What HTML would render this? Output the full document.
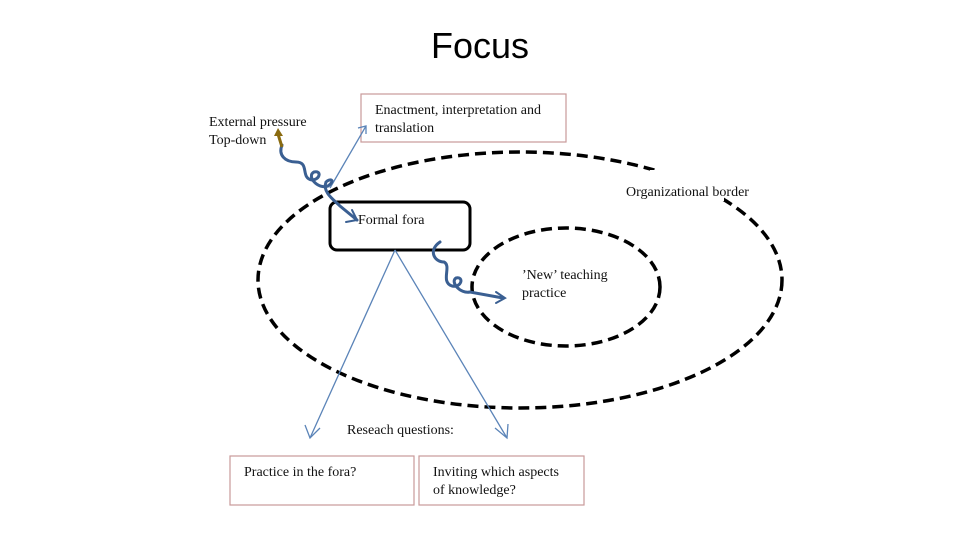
<!DOCTYPE html>
<html><head><style>
body{margin:0;background:#fff;}
svg{display:block}
text{font-family:"Liberation Serif",serif;font-size:14px;fill:#111}
</style></head><body>
<svg width="960" height="540" viewBox="0 0 960 540">
<text x="480" y="58" text-anchor="middle" textLength="98" lengthAdjust="spacingAndGlyphs" style="font-family:'Liberation Sans',sans-serif;font-size:36px;fill:#000">Focus</text>
<ellipse cx="520" cy="280" rx="262" ry="128" fill="none" stroke="#000" stroke-width="3.5" stroke-dasharray="11,6"/>
<rect x="650" y="170" width="74" height="31" fill="#fff"/>
<text x="626" y="196">Organizational border</text>
<ellipse cx="566" cy="287" rx="94" ry="59" fill="none" stroke="#000" stroke-width="3.5" stroke-dasharray="11,6"/>
<rect x="330" y="202" width="140" height="48" rx="7" fill="#fff" stroke="#000" stroke-width="3"/>
<text x="358" y="224">Formal fora</text>
<rect x="361" y="94" width="205" height="48" fill="#fff" stroke="#c99a9a" stroke-width="1.2"/>
<text x="375" y="114">Enactment, interpretation and</text>
<text x="375" y="132">translation</text>
<text x="209" y="126">External pressure</text>
<text x="209" y="144">Top-down</text>
<text x="522" y="279">’New’ teaching</text>
<text x="522" y="297">practice</text>
<text x="347" y="434">Reseach questions:</text>
<rect x="230" y="456" width="184" height="49" fill="#fff" stroke="#c99a9a" stroke-width="1.2"/>
<text x="244" y="476">Practice in the fora?</text>
<rect x="419" y="456" width="165" height="49" fill="#fff" stroke="#c99a9a" stroke-width="1.2"/>
<text x="433" y="476">Inviting which aspects</text>
<text x="433" y="494">of knowledge?</text>
<g stroke="#5b84b8" stroke-width="1.3" fill="none">
<line x1="330" y1="188" x2="366" y2="126"/>
<polyline points="358,128 366,126 366,134"/>
<line x1="395" y1="250" x2="310" y2="438"/>
<polyline points="305,425 310,438 320,428"/>
<line x1="395" y1="250" x2="507" y2="438"/>
<polyline points="495,428 507,438 508,424"/>
</g>
<g stroke="#3a5f92" stroke-width="3" fill="none" stroke-linecap="round">
<path d="M282,145 C278,155 285,162 296,162 C310,162 300,178 312,180 C320,180 322,170 314,172 C306,176 318,190 328,186 C336,180 330,178 326,182 C322,192 334,200 340,206 L357,220"/>
<polyline points="346,222 357,220 352,210" stroke-width="2"/>
<path d="M440,242 C428,250 434,262 444,262 C452,266 440,282 452,286 C462,288 464,276 456,278 C450,282 460,294 470,292 L503,298"/>
<polyline points="496,292 505,298 496,303" stroke-width="2"/>
</g>
<path d="M282,147 L278,134" stroke="#8a6b10" stroke-width="3"/>
<polygon points="274,136 278,128 283,136" fill="#8a6b10"/>
</svg>
</body></html>
